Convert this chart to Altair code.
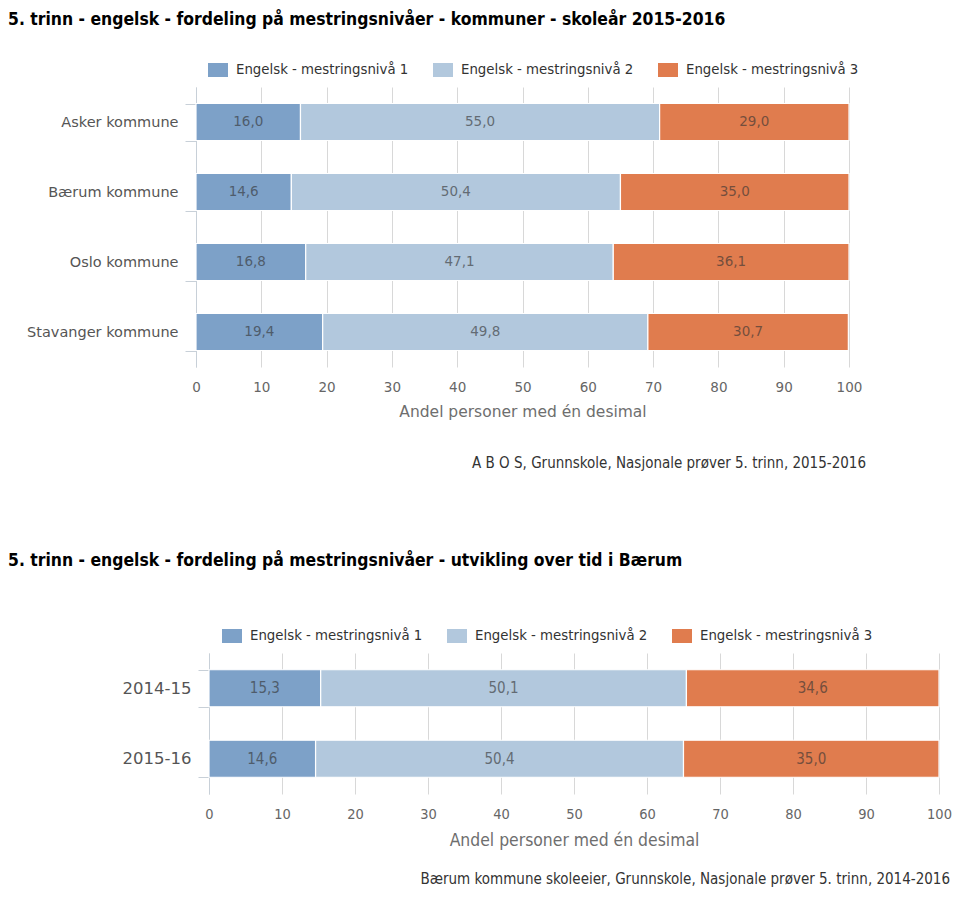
import altair as alt
import pandas as pd

title1 = "5. trinn - engelsk - fordeling på mestringsnivåer - kommuner - skoleår 2015-2016"
title2 = "5. trinn - engelsk - fordeling på mestringsnivåer - utvikling over tid i Bærum"
source1 = "A B O S, Grunnskole, Nasjonale prøver 5. trinn, 2015-2016"
source2 = "Bærum kommune skoleeier, Grunnskole, Nasjonale prøver 5. trinn, 2014-2016"
x_title = "Andel personer med én desimal"

levels = ["Engelsk - mestringsnivå 1", "Engelsk - mestringsnivå 2", "Engelsk - mestringsnivå 3"]
colors = ["#7DA1C8", "#B2C8DD", "#E07C4E"]

kommuner = ["Asker kommune", "Bærum kommune", "Oslo kommune", "Stavanger kommune"]
k_niva1 = [16.0, 14.6, 16.8, 19.4]
k_niva2 = [55.0, 50.4, 47.1, 49.8]
k_niva3 = [29.0, 35.0, 36.1, 30.7]

aar = ["2014-15", "2015-16"]
b_niva1 = [15.3, 14.6]
b_niva2 = [50.1, 50.4]
b_niva3 = [34.6, 35.0]

x_ticks = list(range(0, 101, 10))

TITLE_FONT = "DejaVu Sans Condensed"
SANS = "DejaVu Sans"
COND = "DejaVu Sans Condensed"


def long_table(cats, series):
    rows = []
    for i, c in enumerate(cats):
        start = 0.0
        for lvl, vals in zip(levels, series):
            v = vals[i]
            rows.append({
                "cat": c, "level": lvl, "value": v,
                "start": start, "end": start + v, "mid": start + v / 2,
                "label": f"{v:.1f}".replace(".", ","),
            })
            start += v
    return pd.DataFrame(rows)


def panel(df, cats, width, height, xrange, yoffset, pad_inner, title, title_y,
          source, source_x, source_y, legend_x, legend_y, ylab_size, ylab_font,
          xlab_size, xlab_font, xtitle_font, xtitle_size, val_font, val_size):
    xscale = alt.Scale(domain=[0, 100], range=xrange, nice=False, zero=False)
    yscale = alt.Scale(domain=cats, paddingInner=pad_inner, paddingOuter=pad_inner / 2)
    xaxis = alt.Axis(values=x_ticks, grid=True, gridColor="#D8D8D8", gridWidth=1,
                     domain=False, ticks=False, labelFont=xlab_font, labelFontSize=xlab_size,
                     labelColor="#666666", labelPadding=13, labelFlush=False, format="d",
                     title=x_title, titleFont=xtitle_font, titleFontSize=xtitle_size,
                     titleFontWeight="normal", titleColor="#6E6E6E", titlePadding=11)
    yaxis = alt.Axis(title=None, grid=False, tickBand="extent", tickSize=11,
                     tickColor="#C8D0D8", domainColor="#C8D0D8", offset=yoffset,
                     labelFont=ylab_font, labelFontSize=ylab_size, labelColor="#555555",
                     labelPadding=7)
    legend = alt.Legend(orient="none", legendX=legend_x, legendY=legend_y,
                        direction="horizontal", title=None,
                        symbolType="M-1,-0.7H1V0.7H-1Z", symbolSize=400,
                        symbolStrokeWidth=0, symbolOpacity=1,
                        labelFont=COND, labelFontSize=14.8, labelColor="#333333",
                        labelOffset=8, columnPadding=24, padding=0, labelLimit=400)

    bars = alt.Chart(df).mark_bar(stroke="white", strokeWidth=1.2).encode(
        x=alt.X("start:Q", scale=xscale, axis=xaxis),
        x2="end:Q",
        y=alt.Y("cat:N", scale=yscale, sort=cats, axis=yaxis),
        color=alt.Color("level:N", scale=alt.Scale(domain=levels, range=colors), legend=legend),
    )
    vals = alt.Chart(df).mark_text(font=val_font, fontSize=val_size, color="#333333",
                                   opacity=0.62, align="center", baseline="middle").encode(
        x=alt.X("mid:Q", scale=xscale, axis=xaxis),
        y=alt.Y("cat:N", scale=yscale, sort=cats, axis=yaxis),
        text="label:N",
    )
    ttl = alt.Chart(pd.DataFrame({"t": [title]})).mark_text(
        font=TITLE_FONT, fontSize=17.4, fontWeight="bold", color="#000000",
        align="left", baseline="alphabetic").encode(
        x=alt.value(-188), y=alt.value(title_y), text="t:N")
    src = alt.Chart(pd.DataFrame({"t": [source]})).mark_text(
        font=COND, fontSize=15, color="#333333",
        align="right", baseline="alphabetic").encode(
        x=alt.value(source_x), y=alt.value(source_y), text="t:N")
    return alt.layer(bars, vals, ttl, src).properties(width=width, height=height)


df1 = long_table(kommuner, [k_niva1, k_niva2, k_niva3])
df2 = long_table(aar, [b_niva1, b_niva2, b_niva3])

c1 = panel(df1, kommuner, 653, 280, [0, 653], 0, 33 / 70, title1, -62,
           source1, 670, 381, 12, -27, 14.5, SANS, 13.5, SANS, SANS, 15.5, SANS, 13.5)
c2 = panel(df2, aar, 743, 141, [13, 743], -13, 33.5 / 70.5, title2, -87,
           source2, 754, 231, 26, -27, 16.5, SANS, 14.5, COND, COND, 17.4, COND, 15)

chart = (
    alt.vconcat(c1, c2, spacing=81)
    .resolve_scale(color="independent", x="independent", y="independent")
    .resolve_legend(color="independent")
    .properties(padding={"top": 3, "left": 0, "right": 0, "bottom": 0})
    .configure_view(stroke=None)
)

chart.save("out.html", embed_options={"renderer": "svg", "actions": False})
